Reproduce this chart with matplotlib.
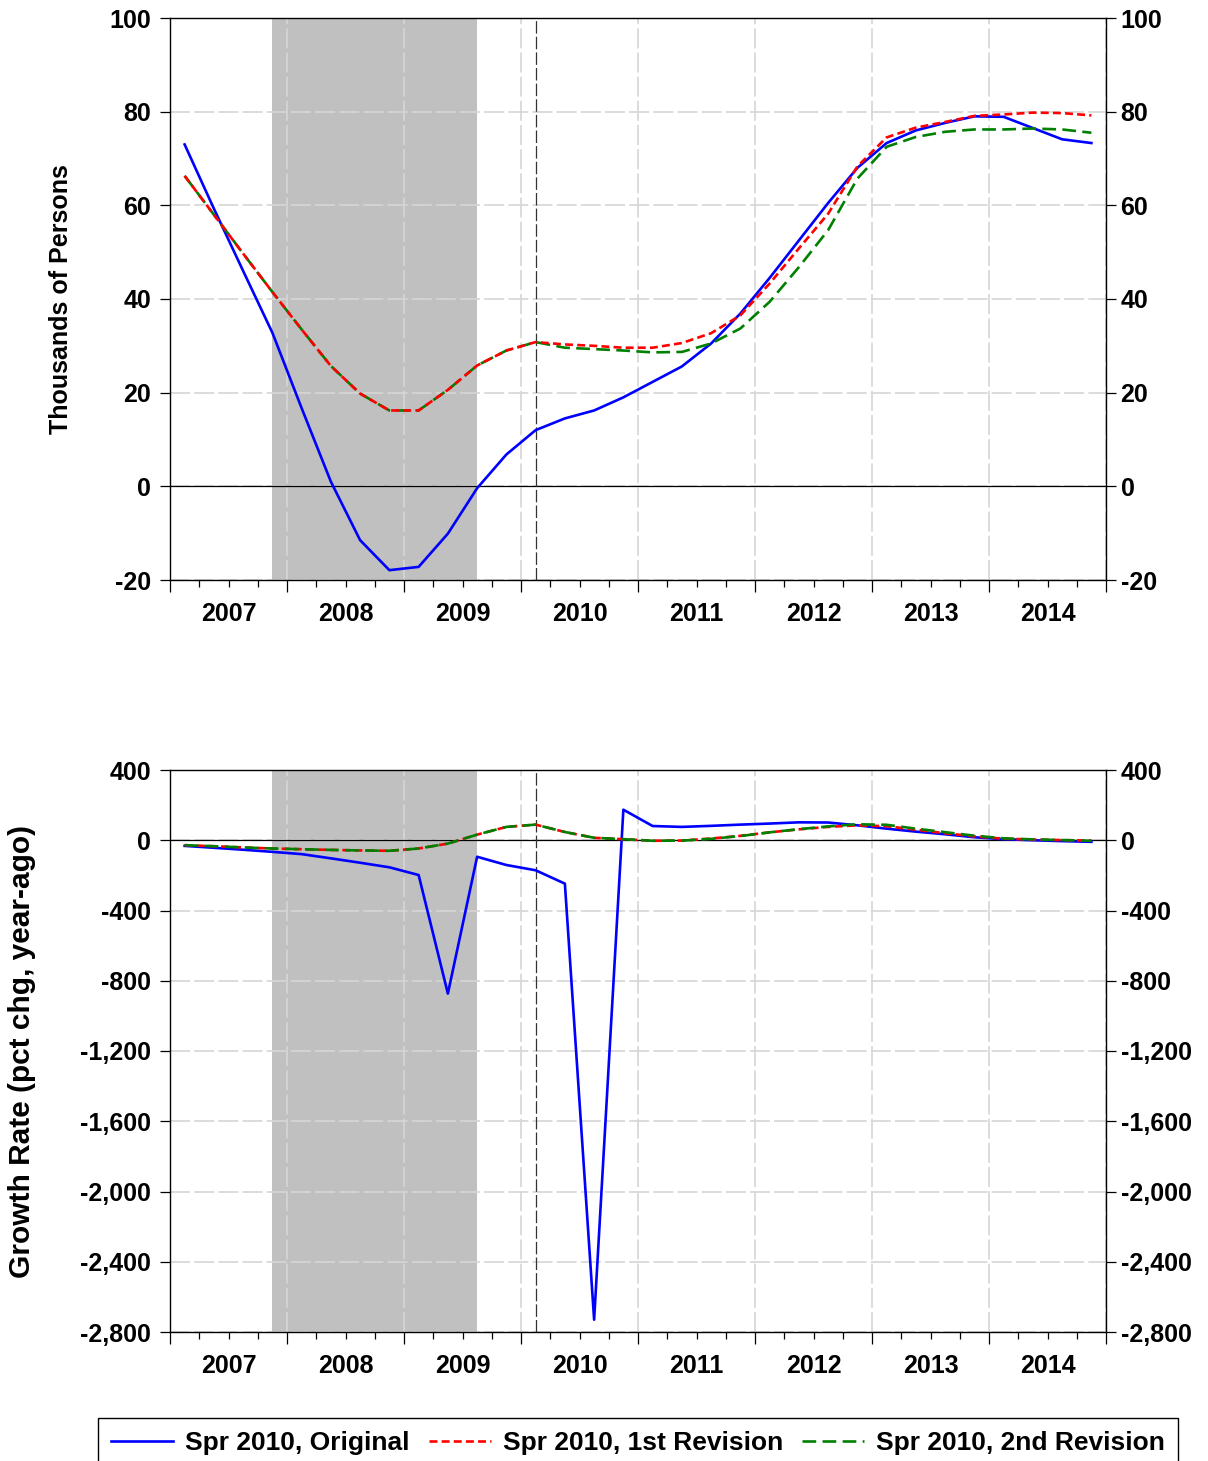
import matplotlib
matplotlib.use("Agg")
import matplotlib.pyplot as plt
from matplotlib.ticker import FixedLocator, FuncFormatter

plt.rcParams['font.family'] = ['Liberation Sans', 'DejaVu Sans']
plt.rcParams['font.weight'] = 'bold'

# ---------------- data ----------------
quarters = ["2007Q1", "2007Q2", "2007Q3", "2007Q4", "2008Q1", "2008Q2", "2008Q3", "2008Q4",
            "2009Q1", "2009Q2", "2009Q3", "2009Q4", "2010Q1", "2010Q2", "2010Q3", "2010Q4",
            "2011Q1", "2011Q2", "2011Q3", "2011Q4", "2012Q1", "2012Q2", "2012Q3", "2012Q4",
            "2013Q1", "2013Q2", "2013Q3", "2013Q4", "2014Q1", "2014Q2", "2014Q3", "2014Q4"]

series_names = ["Spr 2010, Original", "Spr 2010, 1st Revision", "Spr 2010, 2nd Revision"]

# Top panel: thousands of persons
top_original = [73.0, 59.3, 46.0, 32.8, 16.7, 1.0, -11.5, -17.9, -17.2, -10.1, -0.4, 6.8,
                12.0, 14.5, 16.2, 19.0, 22.3, 25.6, 30.5, 36.9, 44.5, 52.5, 60.5, 68.0,
                73.3, 76.0, 77.6, 79.0, 78.9, 76.5, 74.1, 73.3]
top_rev1 = [66.3, 58.0, 49.7, 41.5, 33.5, 25.7, 19.8, 16.2, 16.2, 20.6, 25.8, 29.0,
            30.8, 30.3, 30.0, 29.6, 29.6, 30.6, 32.7, 36.5, 43.3, 50.8, 58.2, 68.3,
            74.5, 76.6, 77.8, 79.1, 79.4, 79.8, 79.7, 79.2]
top_rev2 = [66.3, 58.0, 49.7, 41.5, 33.5, 25.7, 19.8, 16.2, 16.2, 20.6, 25.8, 29.0,
            30.8, 29.6, 29.3, 29.0, 28.6, 28.7, 30.5, 33.7, 39.4, 46.8, 54.7, 65.7,
            72.5, 74.6, 75.7, 76.2, 76.2, 76.4, 76.2, 75.5]

# Bottom panel: growth rate (pct chg, year-ago)
bot_original = [-32, -43, -54, -66, -79, -103, -128, -154, -198, -873, -94, -141,
                -171, -247, -2730, 174, 81, 76, 82, 89, 95, 102, 101, 85,
                66, 49, 34, 17, 6, 0, -5, -9]
bot_rev1 = [-28, -34, -41, -47, -51, -55, -58, -60, -47, -19, 32, 76,
            89, 47, 14, 6, -3, -2, 10, 25, 45, 62, 76, 85,
            80, 60, 40, 22, 9, 4, 1, -2]
bot_rev2 = [-28, -34, -41, -47, -51, -55, -58, -60, -47, -19, 32, 76,
            89, 47, 14, 6, -3, -2, 8, 24, 45, 63, 79, 91,
            88, 66, 46, 26, 11, 5, 1, -3]

recession = ("2007Q4", "2009Q3")
forecast_start = "2010Q1"
years = [2007, 2008, 2009, 2010, 2011, 2012, 2013, 2014, 2015]

top_ticks = [-20, 0, 20, 40, 60, 80, 100]
bot_ticks = [-2800, -2400, -2000, -1600, -1200, -800, -400, 0, 400]


def qpos(q):
    """Quarter label -> time position (middle of the quarter)."""
    y, n = int(q[:4]), int(q[-1])
    return y + (n - 1) * 0.25 + 0.125


x = [qpos(q) for q in quarters]

# ---------------- figure ----------------
W, H = 1208, 1461
fig = plt.figure(figsize=(W / 100, H / 100), dpi=100)
ax_top = fig.add_axes([170 / W, 1 - 580 / H, 936 / W, 562 / H])
ax_bot = fig.add_axes([170 / W, 1 - 1332 / H, 936 / W, 562 / H])

blue, red, green = "#0000ff", "#ff0000", "#008000"
LW = 1.9


def style_axis(ax, yticks, ylim, fmt, ylabel, label_x, label_size):
    ax.set_xlim(years[0], years[-1])
    ax.set_ylim(*ylim)
    ax.axvspan(qpos(recession[0]), qpos(recession[1]), color="#c0c0c0", lw=0, zorder=1)
    ax.axhline(0, color="black", lw=0.9, zorder=1.8)
    ax.axvline(qpos(forecast_start), color="#333333", lw=0.9, dashes=(10, 2.5), zorder=1.8)

    ax.xaxis.set_major_locator(FixedLocator(years))
    minor = [yy + f for yy in years[:-1] for f in (0.25, 0.5, 0.75)]
    ax.xaxis.set_minor_locator(FixedLocator(minor))
    ax.xaxis.set_major_formatter(FuncFormatter(lambda v, p: ""))
    ax.xaxis.set_minor_formatter(
        FuncFormatter(lambda v, p: str(int(v)) if abs(v - int(v) - 0.5) < 1e-6 else ""))
    ax.tick_params(axis="x", which="major", direction="out", length=8.6, width=0.9,
                   top=False)
    ax.tick_params(axis="x", which="minor", direction="out", length=4.7, width=0.9,
                   pad=10.8, labelsize=18, top=False)

    ax.set_yticks(yticks)
    ax.yaxis.set_major_formatter(FuncFormatter(fmt))
    ax.tick_params(axis="y", direction="out", length=7, width=0.9, pad=6.5, labelsize=18)

    ax.grid(True, which="major", color="#d6d6d6", lw=1.2, dashes=(12, 2.5))
    ax.set_axisbelow("line")

    for s in ax.spines.values():
        s.set_linewidth(1.0)
        s.set_color("black")

    ax.set_ylabel(ylabel, fontsize=label_size, fontweight="bold", va="center")
    ax.yaxis.set_label_coords(label_x, 0.5)

    axr = ax.twinx()
    axr.set_ylim(*ylim)
    axr.set_yticks(yticks)
    axr.yaxis.set_major_formatter(FuncFormatter(fmt))
    axr.tick_params(axis="y", direction="out", length=7, width=0.9, pad=3.5, labelsize=18)
    for s in axr.spines.values():
        s.set_visible(False)


style_axis(ax_top, top_ticks, (-20, 100), lambda v, p: f"{int(v)}",
           "Thousands of Persons", -0.1165, 18)
style_axis(ax_bot, bot_ticks, (-2800, 400), lambda v, p: f"{int(v):,}",
           "Growth Rate (pct chg, year-ago)", -0.158, 21.5)

# top panel lines
l1, = ax_top.plot(x, top_original, color=blue, lw=LW, zorder=3, label=series_names[0])
ax_top.plot(x, top_rev2, color=green, lw=LW, dashes=(5.2, 2.4), zorder=3.1)
ax_top.plot(x, top_rev1, color=red, lw=LW, dashes=(3.0, 1.6), zorder=3.2)

# bottom panel lines
ax_bot.plot(x, bot_original, color=blue, lw=LW, zorder=3)
l2, = ax_bot.plot(x, bot_rev1, color=red, lw=LW, dashes=(3.0, 1.6), zorder=3.1,
                  label=series_names[1])
l3, = ax_bot.plot(x, bot_rev2, color=green, lw=LW, dashes=(5.2, 2.4), zorder=3.2,
                  label=series_names[2])

leg = fig.legend([l1, l2, l3], series_names, loc="upper center",
                 bbox_to_anchor=(638 / W, 1 - 1418 / H), ncol=3, fontsize=19,
                 frameon=True, fancybox=False, edgecolor="black", framealpha=1,
                 handlelength=2.35, handletextpad=0.45, columnspacing=0.72,
                 borderpad=0.5, borderaxespad=0)
leg.get_frame().set_linewidth(1.0)
for t in leg.get_texts():
    t.set_fontweight("bold")

fig.savefig("out.png", dpi=100)
